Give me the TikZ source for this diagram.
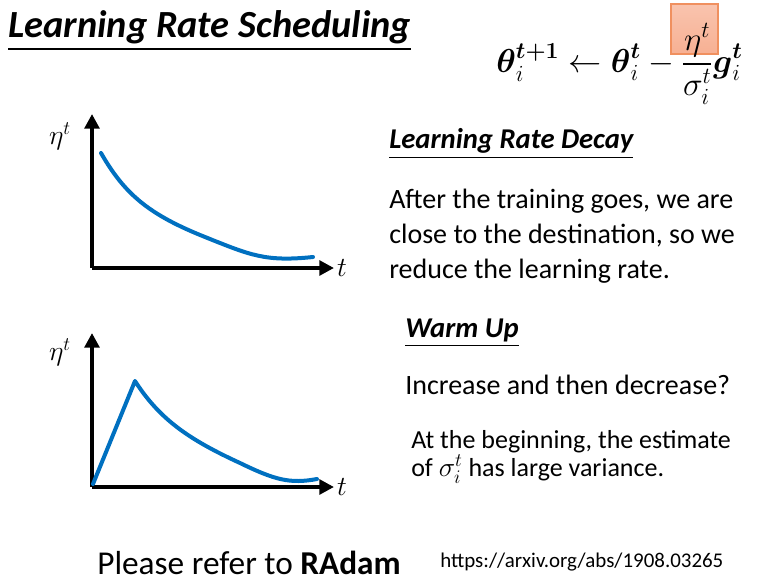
\documentclass[tikz,border=0pt]{standalone}
\usepackage{amsmath}
\usepackage{fontspec}
\setmainfont{Carlito}
\usetikzlibrary{arrows.meta,positioning}
\definecolor{curveblue}{HTML}{0070C0}
\definecolor{boxfill}{HTML}{F7B093}
\definecolor{boxline}{HTML}{F0905F}
\tikzset{
  txt/.style={anchor=west, inner sep=0pt, align=left, font=\fontsize{21}{26.3}\selectfont},
  head/.style={anchor=west, inner sep=0pt, font=\fontsize{21.5}{25}\selectfont\bfseries\itshape},
  axis/.style={line width=3.6pt, -{Triangle[length=11pt,width=11pt]}},
  curve/.style={curveblue, line width=3pt, line cap=round},
  axlabel/.style={inner sep=0pt, font=\fontsize{21}{24}\selectfont}
}
\begin{document}
\begin{tikzpicture}[x=0.75pt, y=-0.75pt]
	\useasboundingbox (0,0) rectangle (762,581);
	% title and update rule
	\node[anchor=west, inner sep=0pt, font=\fontsize{28.8}{32}\selectfont\bfseries\itshape] (title) at (8,31) {\underline{Learning Rate Scheduling}};
	\shade[top color=boxfill!75, bottom color=boxfill, draw=boxline, line width=0.8pt] (671,4) rectangle (718,54);
	\node[anchor=west, inner sep=0pt, font=\fontsize{26}{30}\selectfont] (rule) at (496,64) {$\displaystyle \boldsymbol{\theta}_i^{\boldsymbol{t+1}} \leftarrow \boldsymbol{\theta}_i^{\boldsymbol{t}} - \frac{\eta^t}{\sigma_i^t}\boldsymbol{g}_i^{\boldsymbol{t}}$};
	% decay chart
	\coordinate (o1) at (92,268);
	\draw[axis] (o1) -- (92,114) coordinate (y1);
	\draw[axis] (o1) -- (334,268) coordinate (x1);
	\node[axlabel] (eta1) at (60,136) {$\eta^t$};
	\node[axlabel] (t1) at (342,268) {$t$};
	\draw[curve] (101,153) .. controls (125,195) and (150,215) .. (205,237)
	  .. controls (250,255) and (265,262) .. (313,257);
	% warm up chart
	\coordinate (o2) at (92,487);
	\draw[axis] (o2) -- (92,333) coordinate (y2);
	\draw[axis] (o2) -- (334,487) coordinate (x2);
	\node[axlabel] (eta2) at (60,352) {$\eta^t$};
	\node[axlabel] (t2) at (342,487) {$t$};
	\draw[curve, line join=round] (93,484) -- (135,381)
	  .. controls (160,420) and (190,440) .. (240,463)
	  .. controls (275,480) and (290,484) .. (317,479);
	% texts
	\node[head] (decay) at (389,144) {\underline{Learning Rate Decay}};
	\node[txt] (decaytxt) at (389,236) {After the training goes, we are\\close to the destination, so we\\reduce the learning rate.};
	\node[head] (warm) at (405,333) {\underline{Warm Up}};
	\node[txt] (inc) at (405,385) {Increase and then decrease?};
	\node[anchor=west, inner sep=0pt, align=left, font=\fontsize{19.5}{21.5}\selectfont] (begin) at (411,457) {At the beginning, the estimate\\of $\sigma_i^t$ has large variance.};
	\node[anchor=west, inner sep=0pt, font=\fontsize{25}{30}\selectfont] (radam) at (97,563) {Please refer to \textbf{RAdam}};
	\node[anchor=west, inner sep=0pt, font=\fontsize{15.7}{19}\selectfont] (url) at (440,562) {https://arxiv.org/abs/1908.03265};
\end{tikzpicture}
\end{document}
